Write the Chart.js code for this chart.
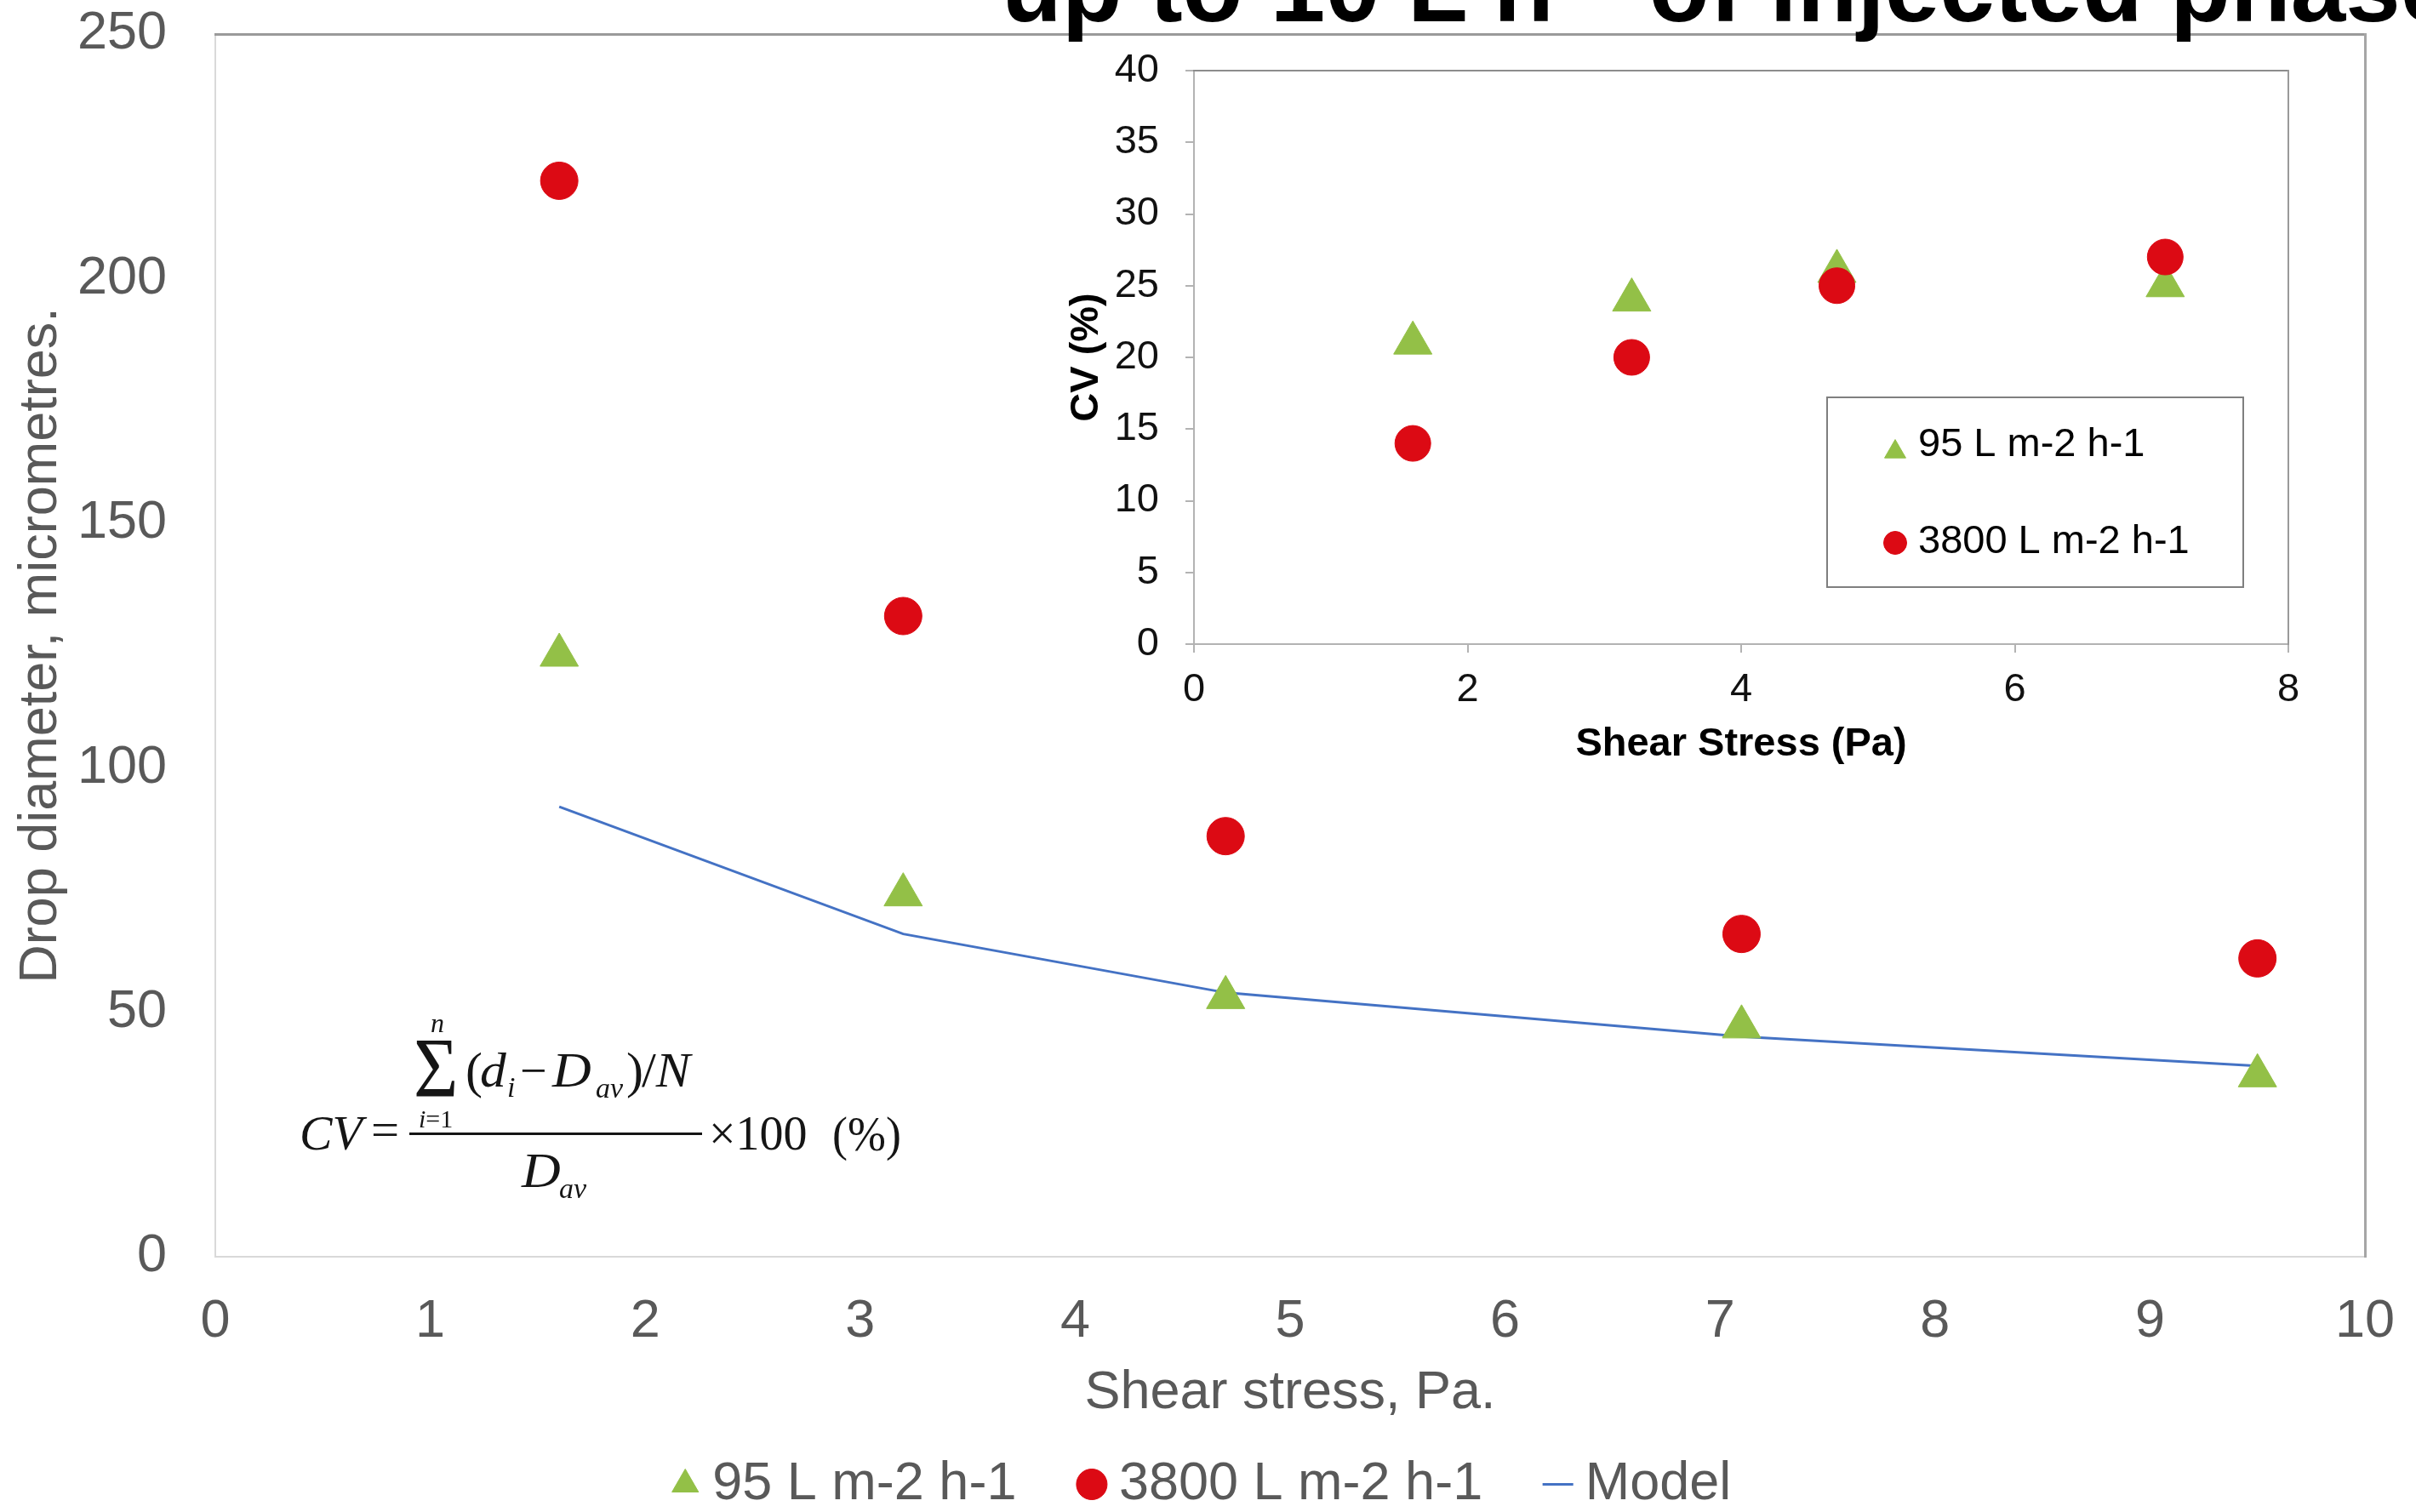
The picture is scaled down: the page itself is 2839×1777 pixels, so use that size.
<!DOCTYPE html>
<html>
<head>
<meta charset="utf-8">
<script src="https://cdn.jsdelivr.net/npm/chart.js@4.4.1/dist/chart.umd.min.js"></script>
<style>
  html, body { margin: 0; padding: 0; background: #fff; width: 2839px; height: 1777px; overflow: hidden; position: relative; }
  #main { position: absolute; left: 0; top: 0; }
  #inset { position: absolute; left: 1220px; top: 40px; }
  #heading { position: absolute; left: 1177px; top: -73px; font: bold 116px 'Liberation Sans', Arial, sans-serif;
             line-height: 1; white-space: nowrap; color: #000; z-index: 3; }
  #heading sup { font-size: 70px; vertical-align: 0.55em; line-height: 0; }
  .eq { position: absolute; line-height: 0; white-space: nowrap; color: #151515; transform-origin: 0 0;
        font-family: 'Liberation Serif', 'Times New Roman', serif; }
  .eq i { font-style: italic; }
  .bar { position: absolute; background: #151515; }
</style>
</head>
<body>
<div id="heading">up to 10 L h<sup>−1</sup> of injected phase</div>
<canvas id="main" width="2839" height="1777"></canvas>
<canvas id="inset" width="1510" height="900"></canvas>

<!-- coefficient of variation formula -->
<div class="eq" style="left:352px;top:1332px;font-size:56px;transform:scaleX(1.03)"><i>CV</i></div>
<div class="eq" style="left:436px;top:1328px;font-size:56px;transform:scaleX(1.05)">=</div>
<div class="bar" style="left:481px;top:1331px;width:344px;height:3px"></div>
<div class="eq" style="left:486px;top:1255px;font-size:100px;transform:scaleX(0.9)">Σ</div>
<div class="eq" style="left:506px;top:1202px;font-size:32px"><i>n</i></div>
<div class="eq" style="left:492px;top:1315px;font-size:30px"><i>i</i>=1</div>
<div class="eq" style="left:547px;top:1258px;font-size:60px">(</div>
<div class="eq" style="left:564px;top:1258px;font-size:56px;transform:scaleX(1.1)"><i>d</i></div>
<div class="eq" style="left:596px;top:1278px;font-size:34px"><i>i</i></div>
<div class="eq" style="left:611px;top:1258px;font-size:56px">−</div>
<div class="eq" style="left:649px;top:1258px;font-size:56px;transform:scaleX(1.13)"><i>D</i></div>
<div class="eq" style="left:700px;top:1279px;font-size:34px"><i>av</i></div>
<div class="eq" style="left:736px;top:1258px;font-size:60px">)</div>
<div class="eq" style="left:754px;top:1258px;font-size:56px;transform:scaleX(1.08)">/<i>N</i></div>
<div class="eq" style="left:613px;top:1376px;font-size:56px;transform:scaleX(1.13)"><i>D</i></div>
<div class="eq" style="left:657px;top:1397px;font-size:34px"><i>av</i></div>
<div class="eq" style="left:833px;top:1332px;font-size:56px">×100</div>
<div class="eq" style="left:978px;top:1333px;font-size:58px;transform:scaleX(0.93)">(%)</div>

<script>
// Drop diameter vs shear stress (main panel)
const shearStress = [1.6, 3.2, 4.7, 7.1, 9.5];
const drop95 = [123, 74, 53, 47, 37];
const drop3800 = [220, 131, 86, 66, 61];
const dropModel = [92, 66, 54, 45, 39];

// Coefficient of variation vs shear stress (inset panel)
const cvStress = [1.6, 3.2, 4.7, 7.1];
const cv95 = [21, 24, 26, 25];
const cv3800 = [14, 20, 25, 27];

const seriesNames = ['95 L m-2 h-1', '3800 L m-2 h-1', 'Model'];

const mainXTicks = [0, 1, 2, 3, 4, 5, 6, 7, 8, 9, 10];
const mainYTicks = [0, 50, 100, 150, 200, 250];
const insetXTicks = [0, 2, 4, 6, 8];
const insetYTicks = [0, 5, 10, 15, 20, 25, 30, 35, 40];

const FONT = "'Liberation Sans', Arial, Helvetica, sans-serif";
const GREEN = '#93c047';
const RED = '#dc0a14';
const BLUE = '#4472c4';
const GRAY_TEXT = '#595959';

Chart.defaults.font.family = FONT;

const pts = (xs, ys) => xs.map((x, i) => ({ x, y: ys[i] }));
const fixedTicks = arr => scale => { scale.ticks = arr.map(v => ({ value: v })); };

// Fixed axis box sizes; label overhang is kept out of the plot-area layout
const fitX = h => s => { s.height = h; s.paddingLeft = 0; s.paddingRight = 0; };
const fitY = w => s => { s.width = w; s.paddingTop = 0; s.paddingBottom = 0; };

// Frame edges drawn by empty top / right axes
const frameAxis = (position, color, width, size) => ({
  type: 'linear', position, min: 0, max: 1,
  ticks: { display: false },
  grid: { display: false, drawTicks: false },
  border: { display: true, color, width },
  afterFit: (position === 'top' || position === 'bottom') ? fitX(size) : fitY(size)
});

new Chart(document.getElementById('main'), {
  type: 'scatter',
  data: {
    datasets: [
      { label: seriesNames[0], data: pts(shearStress, drop95), pointStyle: 'triangle', pointRadius: 26,
        backgroundColor: GREEN, borderColor: GREEN, borderWidth: 1, order: 0 },
      { label: seriesNames[1], data: pts(shearStress, drop3800), pointStyle: 'circle', pointRadius: 22,
        backgroundColor: RED, borderColor: RED, borderWidth: 1, order: 1 },
      { label: seriesNames[2], data: pts(shearStress, dropModel), showLine: true, borderColor: BLUE, borderWidth: 3,
        backgroundColor: BLUE, pointRadius: 0, pointStyle: 'line', pointBorderColor: BLUE, pointBorderWidth: 3,
        tension: 0, fill: false, order: 2 }
    ]
  },
  options: {
    responsive: false, animation: false, events: [],
    layout: { padding: { left: 0, top: 0, right: 0, bottom: -9 } },
    plugins: {
      legend: {
        position: 'bottom',
        labels: { usePointStyle: true, boxWidth: 1, boxHeight: 25.5, padding: 88, color: GRAY_TEXT, font: { size: 63 } }
      },
      tooltip: { enabled: false }
    },
    scales: {
      x: {
        type: 'linear', position: 'bottom', min: 0, max: 10,
        afterBuildTicks: fixedTicks(mainXTicks),
        grid: { display: false, drawTicks: false },
        border: { display: true, color: '#d9d9d9', width: 2 },
        ticks: { color: GRAY_TEXT, font: { size: 63 }, padding: 39, maxRotation: 0, autoSkip: false },
        title: { display: true, text: 'Shear stress, Pa.', color: GRAY_TEXT, font: { size: 63 }, padding: { top: 0, bottom: -50 } },
        afterFit: fitX(148)
      },
      y: {
        type: 'linear', position: 'left', min: 0, max: 250,
        afterBuildTicks: fixedTicks(mainYTicks),
        grid: { display: false, drawTicks: false },
        border: { display: true, color: '#d9d9d9', width: 2 },
        ticks: { color: GRAY_TEXT, font: { size: 63 }, padding: 57 },
        title: { display: true, text: 'Drop diameter, micrometres.', color: GRAY_TEXT, font: { size: 63 }, padding: { top: 11, bottom: 0 } },
        afterFit: fitY(253)
      },
      xTop: frameAxis('top', '#9a9a9a', 3, 40),
      yRight: frameAxis('right', '#a6a6a6', 3, 60)
    }
  }
});

// Boxed legend inside the inset plot area
const insetLegend = {
  id: 'insetLegend',
  afterDraw(chart, args, opts) {
    const { ctx } = chart;
    const b = opts.box;
    ctx.save();
    ctx.fillStyle = '#fff';
    ctx.fillRect(b.x, b.y, b.w, b.h);
    ctx.strokeStyle = '#7f7f7f';
    ctx.lineWidth = 2;
    ctx.strokeRect(b.x, b.y, b.w, b.h);
    ctx.font = '47px ' + FONT;
    ctx.textBaseline = 'middle';
    ctx.textAlign = 'left';
    chart.data.datasets.forEach((ds, i) => {
      const row = opts.rows[i];
      ctx.fillStyle = ds.backgroundColor;
      ctx.strokeStyle = ds.borderColor;
      ctx.lineWidth = 1;
      Chart.helpers.drawPoint(ctx, { pointStyle: ds.pointStyle, radius: row.r, borderWidth: 1, rotation: 0 },
        b.x + opts.markerX, b.y + row.marker);
      ctx.fillStyle = '#000';
      ctx.fillText(ds.label, b.x + opts.textX, b.y + row.text);
    });
    ctx.restore();
  }
};

new Chart(document.getElementById('inset'), {
  type: 'scatter',
  data: {
    datasets: [
      { label: seriesNames[0], data: pts(cvStress, cv95), pointStyle: 'triangle', pointRadius: 26,
        backgroundColor: GREEN, borderColor: GREEN, borderWidth: 1, order: 2 },
      { label: seriesNames[1], data: pts(cvStress, cv3800), pointStyle: 'circle', pointRadius: 21,
        backgroundColor: RED, borderColor: RED, borderWidth: 1, order: 1 }
    ]
  },
  options: {
    responsive: false, animation: false, events: [],
    layout: { padding: 0 },
    plugins: {
      legend: { display: false },
      tooltip: { enabled: false },
      insetLegend: {
        box: { x: 927, y: 427, w: 489, h: 223 },
        markerX: 80, textX: 107,
        rows: [ { marker: 64, text: 56, r: 14.4 }, { marker: 171, text: 170, r: 13.5 } ]
      }
    },
    scales: {
      x: {
        type: 'linear', position: 'bottom', min: 0, max: 8,
        afterBuildTicks: fixedTicks(insetXTicks),
        grid: { display: true, drawOnChartArea: false, drawTicks: true, tickLength: 10, color: '#b3b3b3', lineWidth: 2 },
        border: { display: true, color: '#b3b3b3', width: 2 },
        ticks: { color: '#111', font: { size: 47 }, padding: 16, maxRotation: 0, autoSkip: false },
        title: { display: true, text: 'Shear Stress (Pa)', color: '#000', font: { size: 47, weight: 'bold' }, padding: { top: 0, bottom: 37 } },
        afterFit: fitX(183)
      },
      y: {
        type: 'linear', position: 'left', min: 0, max: 40,
        afterBuildTicks: fixedTicks(insetYTicks),
        grid: { display: true, drawOnChartArea: false, drawTicks: true, tickLength: 10, color: '#b3b3b3', lineWidth: 2 },
        border: { display: true, color: '#b3b3b3', width: 2 },
        ticks: { color: '#111', font: { size: 47 }, padding: 31 },
        title: { display: true, text: 'CV (%)', color: '#000', font: { size: 47, weight: 'bold' }, padding: { top: 29, bottom: 0 } },
        afterFit: fitY(183)
      },
      xTop: frameAxis('top', '#8c8c8c', 2, 43),
      yRight: frameAxis('right', '#9a9a9a', 2, 41)
    }
  },
  plugins: [insetLegend]
});
</script>
</body>
</html>
